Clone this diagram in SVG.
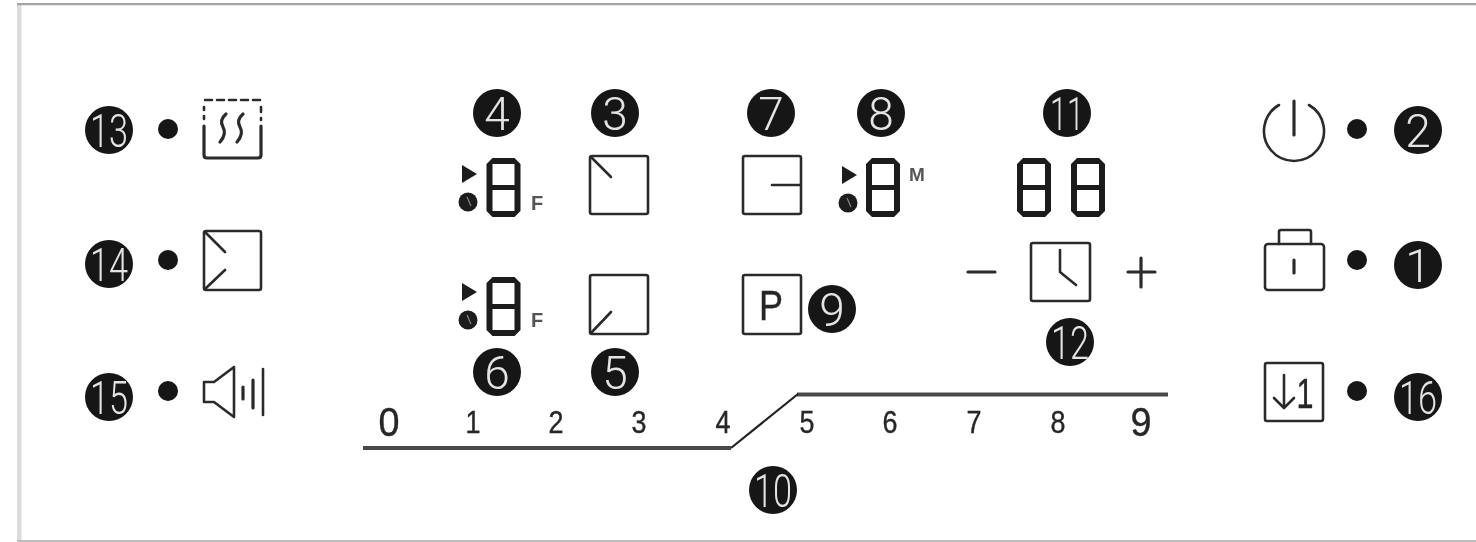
<svg xmlns="http://www.w3.org/2000/svg" width="1476" height="542" viewBox="0 0 1476 542">
<style>
.bg{fill:#fff}
.badge{fill:#141414}
.bt{fill:#e4e4e4;font-family:Roboto,"Liberation Sans",Arial,sans-serif;font-weight:300;font-size:46px;text-anchor:middle}
.dot{fill:#141414}
.ic{fill:none;stroke:#2c2c2c;stroke-width:2.6;stroke-linejoin:round;stroke-linecap:round}
.thick{stroke-width:3.2}
.seg{fill:#1c1c1c;fill-rule:evenodd}
.num{fill:#262626;stroke:#262626;stroke-width:.4;font-family:"Liberation Sans",Arial,sans-serif;text-anchor:middle}
.scale{fill:none;stroke:#4a4a4a;stroke-width:4.2}
.diag{fill:none;stroke:#222;stroke-width:2.2}
.lbl{fill:#555;font-family:"Liberation Sans",Arial,sans-serif;font-weight:bold;text-anchor:middle}
</style>
<defs>
<filter id="soft" x="0" y="0" width="100%" height="100%"><feGaussianBlur stdDeviation="0.7"/></filter>
<g id="d8">
<path class="seg" d="M6 0H28L34 6V53L28 59H6L0 53V6ZM6 6V27H28V6ZM6 32V53H28V32Z"/>
</g>
<g id="tc">
<path d="M0 0L15 9L0 18Z" fill="#1c1c1c"/>
<circle cx="6" cy="37" r="9.500" fill="#1c1c1c"/>
<path d="M5 32L9 41" stroke="#888" stroke-width="1.200" fill="none"/>
</g>
</defs>
<rect class="bg" width="1476" height="542"/>
<g filter="url(#soft)">
<g id="frame">
<path d="M19 3V542" fill="none" stroke="#dcdcdc" stroke-width="5"/>
<path d="M17 4H1476" fill="none" stroke="#a4a4a4" stroke-width="2.500"/>
<path d="M17 541H1476" fill="none" stroke="#bdbdbd" stroke-width="2"/>
</g>
<g id="connectors">
<path class="scale" d="M363 448H731"/>
<path class="scale" d="M797 394.500H1168"/>
<path class="diag" d="M731 448L798 394"/>
</g>

<g id="n13"><circle class="badge" cx="109" cy="130" r="24"/><text class="bt" x="109" y="147" textLength="38" lengthAdjust="spacingAndGlyphs">13</text></g>
<g id="n14"><circle class="badge" cx="109" cy="264" r="24"/><text class="bt" x="109" y="281" textLength="38" lengthAdjust="spacingAndGlyphs">14</text></g>
<g id="n15"><circle class="badge" cx="109" cy="397" r="24"/><text class="bt" x="109" y="414" textLength="38" lengthAdjust="spacingAndGlyphs">15</text></g>
<g id="n4"><circle class="badge" cx="497" cy="113" r="24"/><text class="bt" x="497" y="130">4</text></g>
<g id="n3"><circle class="badge" cx="615" cy="113" r="24"/><text class="bt" x="615" y="130">3</text></g>
<g id="n6"><circle class="badge" cx="497" cy="372" r="24"/><text class="bt" x="497" y="389">6</text></g>
<g id="n5"><circle class="badge" cx="615" cy="372" r="24"/><text class="bt" x="615" y="389">5</text></g>
<g id="n7"><circle class="badge" cx="771" cy="113" r="24"/><text class="bt" x="771" y="130">7</text></g>
<g id="n8"><circle class="badge" cx="881" cy="113" r="24"/><text class="bt" x="881" y="130">8</text></g>
<g id="n9"><circle class="badge" cx="832" cy="309" r="24"/><text class="bt" x="832" y="326">9</text></g>
<g id="n10"><circle class="badge" cx="773" cy="490" r="24"/><text class="bt" x="773" y="507" textLength="38" lengthAdjust="spacingAndGlyphs">10</text></g>
<g id="n11"><circle class="badge" cx="1067" cy="113" r="24"/><text class="bt" x="1067" y="130" textLength="34" lengthAdjust="spacingAndGlyphs">11</text></g>
<g id="n12"><circle class="badge" cx="1070" cy="342" r="24"/><text class="bt" x="1070" y="359" textLength="38" lengthAdjust="spacingAndGlyphs">12</text></g>
<g id="n2"><circle class="badge" cx="1418" cy="130" r="24"/><text class="bt" x="1418" y="147">2</text></g>
<g id="n1"><circle class="badge" cx="1418" cy="265" r="24"/><text class="bt" x="1418" y="282">1</text></g>
<g id="n16"><circle class="badge" cx="1418" cy="397" r="24"/><text class="bt" x="1418" y="414" textLength="38" lengthAdjust="spacingAndGlyphs">16</text></g>

<g id="icon-warm">
<circle class="dot" cx="168" cy="129" r="10"/>
<path class="ic" d="M205 100H262" stroke-dasharray="7 5"/>
<path class="ic" d="M204 107V110M204 116V119M261 107V112M261 118V120"/>
<path class="ic thick" d="M204 126V155Q204 158 207 158H258Q261 158 261 155V126"/>
<path class="ic thick" d="M226 114Q219 120 223 127T220 142M243 114Q236 120 240 127T237 142"/>
</g>
<g id="icon-bridge">
<circle class="dot" cx="168" cy="260" r="10"/>
<rect class="ic" x="204" y="231" width="57" height="59" rx="2"/>
<path class="ic" d="M205 232L225 252M205 289L225 270"/>
</g>
<g id="icon-sound">
<circle class="dot" cx="168" cy="391" r="10"/>
<path class="ic" d="M204 382H214L234 367V417L214 402H204Z"/>
<path class="ic thick" d="M243 387V399M253 380V408"/>
<path class="ic" d="M263 369V415"/>
</g>

<g id="disp4"><use href="#tc" x="462" y="165"/><use href="#d8" x="486.500" y="158"/><text class="lbl" x="537" y="210" font-size="20">F</text></g>
<g id="disp6"><use href="#tc" x="462" y="283"/><use href="#d8" x="486.500" y="277"/><text class="lbl" x="537" y="327" font-size="20">F</text></g>
<g id="disp8"><use href="#tc" x="842" y="166"/><use href="#d8" x="866" y="158"/><text class="lbl" x="917" y="181" font-size="19">M</text></g>
<g id="disp11"><use href="#d8" x="1017" y="158"/><use href="#d8" x="1071" y="158"/></g>

<g id="key3"><rect class="ic" x="590" y="156" width="58" height="58" rx="2"/><path class="ic" d="M591 157L611 177"/></g>
<g id="key5"><rect class="ic" x="590" y="275" width="58" height="59" rx="2"/><path class="ic" d="M591 333L611 312"/></g>
<g id="key7"><rect class="ic" x="743" y="156" width="58" height="58" rx="2"/><path class="ic" d="M772 185H800"/></g>
<g id="key9"><rect class="ic" x="743" y="275" width="58" height="59" rx="2"/><text class="num" x="771" y="320" font-size="42" textLength="24" lengthAdjust="spacingAndGlyphs">P</text></g>
<g id="key12"><rect class="ic" x="1031" y="243" width="59" height="58" rx="2"/><path class="ic" d="M1060 250V272L1076 285"/></g>
<g id="key-minus"><path class="ic thick" d="M968 272H995"/></g>
<g id="key-plus"><path class="ic thick" d="M1128 272H1155M1141 258V287"/></g>

<g id="icon-power">
<circle class="dot" cx="1357" cy="129" r="10"/>
<path class="ic" d="M1279 105A30 30 0 1 0 1309 105"/>
<path class="ic thick" d="M1294 101V135"/>
</g>
<g id="icon-lock">
<circle class="dot" cx="1357" cy="260" r="10"/>
<rect class="ic" x="1265" y="244" width="59" height="46" rx="3"/>
<path class="ic" d="M1279 244V232Q1279 230 1281 230H1309Q1311 230 1311 232V244"/>
<path class="ic thick" d="M1294 260V273"/>
</g>
<g id="icon-first">
<circle class="dot" cx="1357" cy="391" r="10"/>
<rect class="ic" x="1265" y="363" width="58" height="58" rx="2"/>
<path class="ic" d="M1284 375V408M1274 398L1284 408L1294 398"/>
<text class="num" x="1305" y="408" font-size="42" textLength="17" lengthAdjust="spacingAndGlyphs">1</text>
</g>

<g id="scale-labels">
<text class="num" x="389" y="436" font-size="40" textLength="21" lengthAdjust="spacingAndGlyphs">0</text>
<text class="num" x="473" y="433" font-size="31" textLength="15" lengthAdjust="spacingAndGlyphs">1</text>
<text class="num" x="556" y="433" font-size="31" textLength="15" lengthAdjust="spacingAndGlyphs">2</text>
<text class="num" x="639" y="433" font-size="31" textLength="15" lengthAdjust="spacingAndGlyphs">3</text>
<text class="num" x="723" y="433" font-size="31" textLength="15" lengthAdjust="spacingAndGlyphs">4</text>
<text class="num" x="807" y="433" font-size="31" textLength="15" lengthAdjust="spacingAndGlyphs">5</text>
<text class="num" x="890" y="433" font-size="31" textLength="15" lengthAdjust="spacingAndGlyphs">6</text>
<text class="num" x="974" y="433" font-size="31" textLength="15" lengthAdjust="spacingAndGlyphs">7</text>
<text class="num" x="1058" y="433" font-size="31" textLength="15" lengthAdjust="spacingAndGlyphs">8</text>
<text class="num" x="1141" y="436" font-size="40" textLength="21" lengthAdjust="spacingAndGlyphs">9</text>
</g>
</g>
</svg>
